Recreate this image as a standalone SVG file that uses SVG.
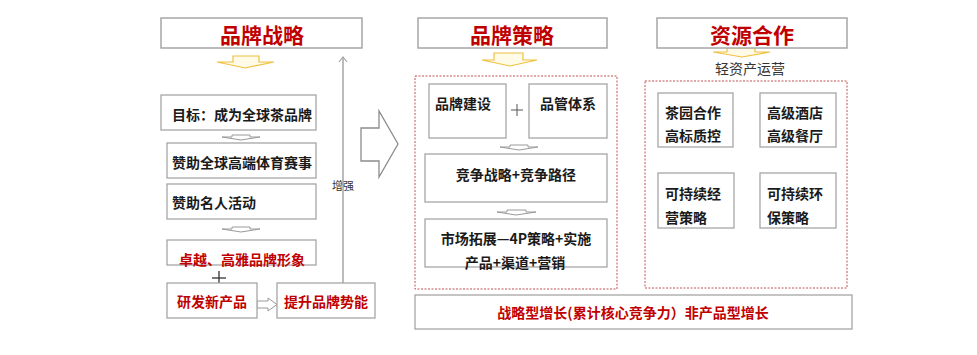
<svg xmlns="http://www.w3.org/2000/svg" width="977" height="355" viewBox="0 0 977 355">
<defs>
<style>
text{font-family:"Noto Sans CJK SC","Noto Sans",sans-serif;dominant-baseline:central}
.box{fill:#fff;stroke:#a6a6a6;stroke-width:1.3}
.tbox{fill:#fff;stroke:#a6a6a6;stroke-width:1.5}
.title{font-size:21px;font-weight:bold;fill:#c00000;text-anchor:middle}
.b{font-size:14px;font-weight:bold;fill:#1a1a1a}
.r{font-size:14px;font-weight:bold;fill:#c00000}
.mid{text-anchor:middle}
.dash{fill:none;stroke:#c0504d;stroke-width:1;stroke-dasharray:2,1.5}
.yarrow{fill:#fffbe6;stroke:#f0c040;stroke-width:1.2}
.garrow{fill:#fff;stroke:#9a9a9a;stroke-width:1}
.plus{stroke:#333;stroke-width:1.3}
</style>
<marker id="open" markerWidth="10" markerHeight="10" refX="9" refY="5" orient="auto" markerUnits="userSpaceOnUse" viewBox="0 0 10 10">
<path d="M4,1 L9,5 L4,9" fill="none" stroke="#a6a6a6" stroke-width="1.2"/>
</marker>
</defs>

<g id="connectors">
<path id="enhance" d="M343,283 L343,57" stroke="#a6a6a6" stroke-width="1.5" fill="none" marker-end="url(#open)"/>
<text x="343" y="185" font-size="11" fill="#333" text-anchor="middle">增强</text>
<path id="arrow-left1" class="yarrow" d="M233,56 L259,56 L259,62 L274,62 L245,68 L217,62 L233,62 Z"/>
<path id="arrow-mid1" class="yarrow" d="M494,53 L523,53 L523,60 L537,60 L510,66 L482,60 L494,60 Z"/>
<path id="arrow-right1" class="yarrow" d="M727,48 L755,48 L755,52 L770,52 L742,57 L713,52 L727,52 Z"/>
<path class="garrow" d="M232,135 L250,135 L250,137 L260,137 L241,140 L222,137 L232,137 Z"/>
<path class="garrow" d="M232,227 L250,227 L250,229 L260,229 L241,232 L222,229 L232,229 Z"/>
<path class="garrow" d="M510,145 L528,145 L528,147 L538,147 L519,150 L500,147 L510,147 Z"/>
<path class="garrow" d="M507,210 L526,210 L526,212 L536,212 L516,215 L497,212 L507,212 Z"/>
<path class="garrow" d="M257,301 L268,301 L268,298 L277,304.5 L268,311 L268,308 L257,308 Z"/>
<path id="big-arrow" d="M361,128 L379,128 L379,111 L398,144 L379,177 L379,161 L361,161 Z" fill="#fff" stroke="#8c8c8c" stroke-width="1.3"/>
<line class="plus" x1="212" y1="278" x2="226" y2="278"/>
<line class="plus" x1="219" y1="271" x2="219" y2="285"/>
<line x1="511" y1="110" x2="523" y2="110" stroke="#555" stroke-width="1"/>
<line x1="517" y1="104" x2="517" y2="116" stroke="#555" stroke-width="1"/>
</g>

<g id="n-brand-strategy">
<rect class="tbox" x="161" y="18" width="201" height="30"/>
<text class="title" x="262" y="34">品牌战略</text>
</g>
<g id="n-goal">
<rect class="box" x="161" y="95" width="155" height="35"/>
<text class="b" x="172" y="114">目标：成为全球茶品牌</text>
</g>
<g id="n-sports">
<rect class="box" x="167" y="143" width="149" height="35"/>
<text class="b" x="172" y="162">赞助全球高端体育赛事</text>
</g>
<g id="n-celeb">
<rect class="box" x="167" y="184" width="149" height="35"/>
<text class="b" x="172" y="202">赞助名人活动</text>
</g>
<g id="n-image">
<rect class="box" x="167" y="240" width="149" height="25"/>
<text class="r" x="179" y="259">卓越、高雅品牌形象</text>
</g>
<g id="n-rd">
<rect class="box" x="167" y="283" width="90" height="35"/>
<text class="r mid" x="212" y="301">研发新产品</text>
</g>
<g id="n-momentum">
<rect class="box" x="277" y="283" width="98" height="35"/>
<text class="r mid" x="326" y="301">提升品牌势能</text>
</g>

<g id="n-brand-tactics">
<rect class="tbox" x="418" y="18" width="189" height="30"/>
<text class="title" x="512" y="34">品牌策略</text>
</g>
<g id="n-mid-frame">
<rect class="dash" x="415" y="76" width="202" height="213"/>
</g>
<g id="n-build">
<rect class="box" x="429" y="84" width="77" height="54"/>
<text class="b" x="435" y="103">品牌建设</text>
</g>
<g id="n-mgmt">
<rect class="box" x="529" y="84" width="78" height="54"/>
<text class="b" x="540" y="103">品管体系</text>
</g>
<g id="n-compete">
<rect class="box" x="425" y="154" width="182" height="48"/>
<text class="b mid" x="516" y="174">竞争战略+竞争路径</text>
</g>
<g id="n-market">
<rect class="box" x="425" y="219" width="182" height="48"/>
<text class="b mid" x="516" y="238">市场拓展—4P策略+实施</text>
<text class="b mid" x="515" y="262">产品+渠道+营销</text>
</g>
<g id="n-growth">
<rect class="box" x="415" y="295" width="437" height="34"/>
<text class="r mid" x="633" y="312">战略型增长(累计核心竞争力）非产品型增长</text>
</g>

<g id="n-resource">
<rect class="tbox" x="657" y="18" width="190" height="30"/>
<text class="title" x="752" y="34">资源合作</text>
</g>
<g id="n-light">
<text x="750" y="68" font-size="14" fill="#333" text-anchor="middle">轻资产运营</text>
</g>
<g id="n-right-frame">
<rect class="dash" x="645" y="81" width="202" height="207"/>
</g>
<g id="n-garden">
<rect class="box" x="658" y="93" width="75" height="54"/>
<text class="b" x="665" y="112">茶园合作</text>
<text class="b" x="665" y="135">高标质控</text>
</g>
<g id="n-hotel">
<rect class="box" x="760" y="93" width="76" height="54"/>
<text class="b" x="767" y="112">高级酒店</text>
<text class="b" x="767" y="135">高级餐厅</text>
</g>
<g id="n-sustain-op">
<rect class="box" x="658" y="173" width="76" height="55"/>
<text class="b" x="665" y="193">可持续经</text>
<text class="b" x="665" y="217">营策略</text>
</g>
<g id="n-sustain-env">
<rect class="box" x="760" y="173" width="76" height="55"/>
<text class="b" x="767" y="193">可持续环</text>
<text class="b" x="767" y="217">保策略</text>
</g>
</svg>
